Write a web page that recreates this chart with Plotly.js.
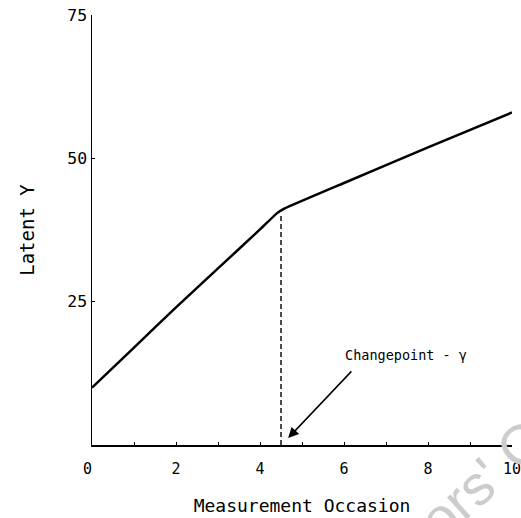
<!DOCTYPE html>
<html>
<head>
<meta charset="utf-8">
<script src="https://cdn.plot.ly/plotly-3.0.1.min.js"></script>
<style>
html,body{margin:0;padding:0;background:#fff;}
#chart{width:521px;height:518px;}
</style>
</head>
<body>
<div id="chart"></div>
<script>
// Latent trajectory (piecewise linear with changepoint)
const occasion = [0, 1, 2, 3, 4, 4.4, 4.6, 6, 8, 10];
const latentY  = [10, 17, 24, 30.8, 37.6, 40.4, 41.3, 45.7, 51.9, 58];
// Changepoint marker
const changepointX = [4.5, 4.5];
const changepointY = [0, 40];
// Axis ticks
const xTickVals = [0,1,2,3,4,5,6,7,8,9,10];
const xTickText = ['0\u00a0','','2','','4','','6','','8','','10'];
const yTickVals = [25, 50, 75];
const yTickText = ['25', '50', '75'];
// Annotation
const changepointLabel = 'Changepoint - \u03b3';
const watermark = "Authors' Copy";

const mono = 'DejaVu Sans Mono, monospace';

const traces = [
  {x: occasion, y: latentY, mode: 'lines', line: {color: '#000', width: 2.5, shape: 'spline', smoothing: 0.3}, hoverinfo: 'skip'},
  {x: changepointX, y: changepointY, mode: 'lines', line: {color: '#000', width: 1.4, dash: '5px,3px'}, hoverinfo: 'skip'}
];

const layout = {
  width: 521, height: 518,
  margin: {l: 92, r: 9, t: 15, b: 73},
  paper_bgcolor: '#fff', plot_bgcolor: '#fff',
  showlegend: false,
  xaxis: {
    range: [0, 10], showgrid: false, zeroline: false,
    showline: true, linecolor: '#000', linewidth: 1.5,
    ticks: 'inside', ticklen: 3, tickcolor: '#000', tickwidth: 1,
    tickmode: 'array', tickvals: xTickVals, ticktext: xTickText,
    tickfont: {family: mono, size: 15, color: '#000'},
    ticklabelstandoff: 9,
    ticklabeloverflow: 'allow',
    title: {text: 'Measurement Occasion', font: {family: mono, size: 18, color: '#000'}, standoff: 23},
    automargin: false
  },
  yaxis: {
    range: [0, 75], showgrid: false, zeroline: false,
    showline: true, linecolor: '#000', linewidth: 1.5,
    ticks: 'inside', ticklen: 3, tickcolor: '#000', tickwidth: 1,
    tickmode: 'array', tickvals: yTickVals, ticktext: yTickText,
    tickfont: {family: mono, size: 16.5, color: '#000'},
    ticklabelstandoff: 0,
    ticklabeloverflow: 'allow',
    title: {text: 'Latent Y', font: {family: mono, size: 19, color: '#000'}, standoff: 27},
    automargin: false
  },
  annotations: [
    {
      x: 7.48, y: 15.7, xref: 'x', yref: 'y',
      text: changepointLabel, showarrow: false,
      font: {family: mono, size: 13.5, color: '#000'},
      xanchor: 'center', yanchor: 'middle'
    },
    {
      x: 4.67, y: 1.2, xref: 'x', yref: 'y',
      ax: 6.21, ay: 13.1, axref: 'x', ayref: 'y',
      text: '', showarrow: true,
      arrowhead: 2, arrowsize: 1.4, arrowwidth: 1.5, arrowcolor: '#000'
    },
    {
      x: 0.905, y: -0.1, xref: 'paper', yref: 'paper',
      text: watermark, showarrow: false, textangle: -42,
      font: {family: 'Liberation Sans, Arial, sans-serif', size: 56, color: '#cccccc'},
      xanchor: 'center', yanchor: 'middle'
    }
  ]
};

Plotly.newPlot('chart', traces, layout, {displayModeBar: false, staticPlot: true});
</script>
</body>
</html>
